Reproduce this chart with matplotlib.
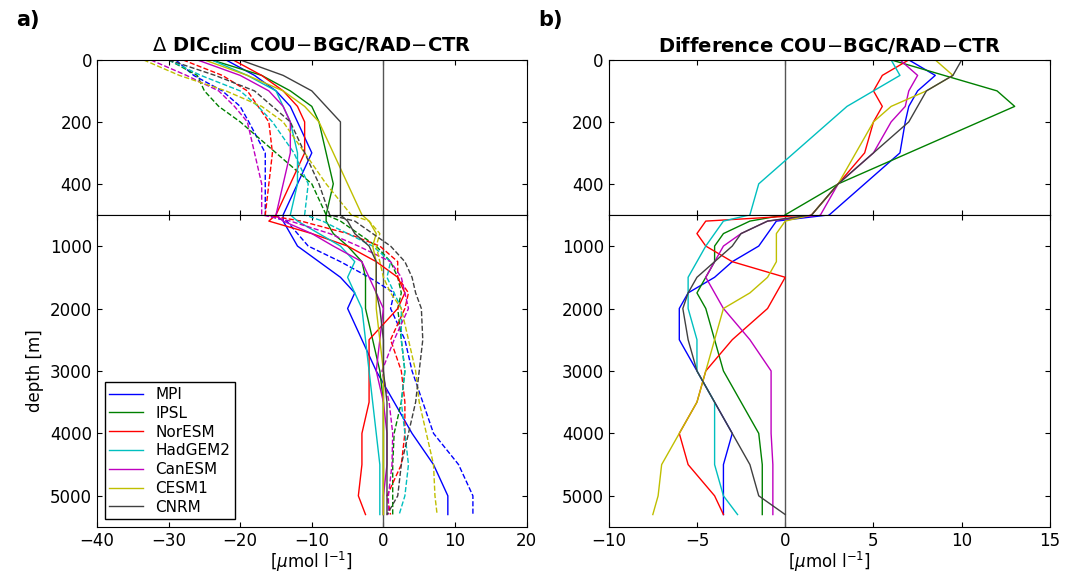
import numpy as np
import matplotlib
matplotlib.use('Agg')
import matplotlib.pyplot as plt

plt.rcParams['xtick.direction'] = 'in'
plt.rcParams['ytick.direction'] = 'in'
plt.rcParams['font.size'] = 12

depth = [0, 50, 100, 150, 200, 300, 400, 500, 600, 800, 1000, 1250, 1500, 1750,
         2000, 2500, 3000, 3500, 4000, 4500, 5000, 5300]

models = ['MPI', 'IPSL', 'NorESM', 'HadGEM2', 'CanESM', 'CESM1', 'CNRM']
colors = ['#0000ff', '#008000', '#ff0000', '#00bfbf', '#bf00bf', '#bfbf00', '#404040']

# panel a, solid lines (delta DIC clim)
solid = {
    'MPI':     [-22, -18, -15, -13, -12, -10, -12, -14, -14, -13, -12, -9, -6, -4, -5, -3, -1, 1.5, 4, 7, 9, 9],
    'IPSL':    [-24, -17, -13, -10, -9, -8, -7, -8, -8, -7, -5, -3, -2.5, -2.5, -2.5, -1.5, -0.5, 0, 0, 0, 0, 0],
    'NorESM':  [-21, -17, -14, -12, -11, -11, -13, -15, -16, -10, -5, -1, 2, 3, 2, -2, -2, -2, -3, -3, -3.5, -2.5],
    'HadGEM2': [-24, -19, -15, -14, -13, -12, -12, -13, -12, -9, -6, -4, -5, -4, -3, -2.5, -2, -1.5, -1, -0.5, -0.5, -0.5],
    'CanESM':  [-26, -20, -16, -14, -13, -13, -14, -15, -14, -10, -7, -3, -2, -1, 0, -0.5, -1, 0, 0.5, 0.5, 0, 0],
    'CESM1':   [-25, -19, -14, -11, -9, -7, -5, -3, -2, -1, -1.5, -1, -1, -1, -1, -0.5, 0, 0, 0, 0, 0, 0],
    'CNRM':    [-20, -14, -10, -8, -6, -6, -6, -6, -5, -4, -2, -1, -1, -1, -0.5, 0, 0, 0.5, 0.5, 0.5, 0.5, 0.5],
}

# panel b, difference
diff = {
    'MPI':     [7, 8.5, 7.5, 7, 6.8, 6.5, 4.5, 2.5, -0.5, -1, -1.5, -3, -4, -5.5, -6, -6, -5, -4, -3, -3.5, -3.5, -3.5],
    'IPSL':    [6, 9, 12, 13, 11, 7, 3, 0, -2, -3.5, -4, -4, -4.5, -5, -4.5, -4, -3.5, -2.5, -1.5, -1.3, -1.3, -1.3],
    'NorESM':  [7, 5.5, 5, 5.5, 5, 4.5, 3, 1.5, -4.5, -5, -4.5, -3, 0, -0.5, -1, -3, -4.5, -5, -6, -5.5, -4, -3.5],
    'HadGEM2': [6, 6.5, 5, 3.5, 2.5, 0.5, -1.5, -2, -3.5, -4, -4.5, -5, -5.5, -5.5, -5.5, -5, -5, -4, -4, -4, -3.5, -2.7],
    'CanESM':  [6.5, 7.5, 7, 6.8, 6, 5, 3, 2, -1, -2.5, -3.5, -4, -4.5, -4, -3.5, -2, -0.8, -0.8, -0.8, -0.7, -0.7, -0.7],
    'CESM1':   [8.5, 9.5, 8, 6, 5, 4, 3, 1.5, 0, -0.5, -0.5, -0.5, -1, -2, -3.5, -4, -4.5, -5, -6, -7, -7.2, -7.5],
    'CNRM':    [10, 9.5, 8, 7.5, 7, 5, 3, 1.5, -1, -2.5, -3, -4, -5, -5.5, -5.8, -5.5, -5, -4, -3, -2, -1.5, 0],
}

fig = plt.figure(figsize=(10.66, 5.76), dpi=100)

def make_pair(left, width):
    up = fig.add_axes([left, 0.627, width, 0.269])
    lo = fig.add_axes([left, 0.085, width, 0.542])
    up.set_ylim(500, 0)
    up.set_yticks([0, 200, 400])
    lo.set_ylim(5500, 500)
    lo.set_yticks([1000, 2000, 3000, 4000, 5000])
    up.set_xticklabels([])
    for ax in (up, lo):
        ax.axvline(0, color='#555555', lw=1)
        ax.tick_params(top=True, right=True)
    return up, lo

a_up, a_lo = make_pair(0.091, 0.403)
b_up, b_lo = make_pair(0.571, 0.414)

for m, c in zip(models, colors):
    s = np.array(solid[m])
    d = np.array(diff[m])
    dashed = s - d
    for ax in (a_up, a_lo):
        ax.plot(s, depth, color=c, lw=1, label=m)
        ax.plot(dashed, depth, color=c, lw=1, ls='--')
    for ax in (b_up, b_lo):
        ax.plot(d, depth, color=c, lw=1)

for ax in (a_up, a_lo):
    ax.set_xlim(-40, 20)
    ax.set_xticks(np.arange(-40, 21, 10))
for ax in (b_up, b_lo):
    ax.set_xlim(-10, 15)
    ax.set_xticks(np.arange(-10, 16, 5))

a_lo.set_ylabel('depth [m]')
a_lo.set_xlabel(r'[$\mu$mol l$^{-1}$]', labelpad=0)
b_lo.set_xlabel(r'[$\mu$mol l$^{-1}$]', labelpad=0)

# legend only with solid lines
h, l = a_lo.get_legend_handles_labels()
a_lo.legend(h, l, loc='lower left', fontsize=11, fancybox=False, edgecolor='black',
            framealpha=1, handlelength=2.2, borderpad=0.3, labelspacing=0.25)

a_up.set_title(r'$\Delta$ DIC$_{\mathbf{clim}}$ COU$-$BGC/RAD$-$CTR', fontweight='bold', fontsize=14)
b_up.set_title(r'Difference COU$-$BGC/RAD$-$CTR', fontweight='bold', fontsize=14)
fig.text(0.015, 0.955, 'a)', fontsize=15, fontweight='bold')
fig.text(0.505, 0.955, 'b)', fontsize=15, fontweight='bold')

fig.savefig('out.png', dpi=100)
